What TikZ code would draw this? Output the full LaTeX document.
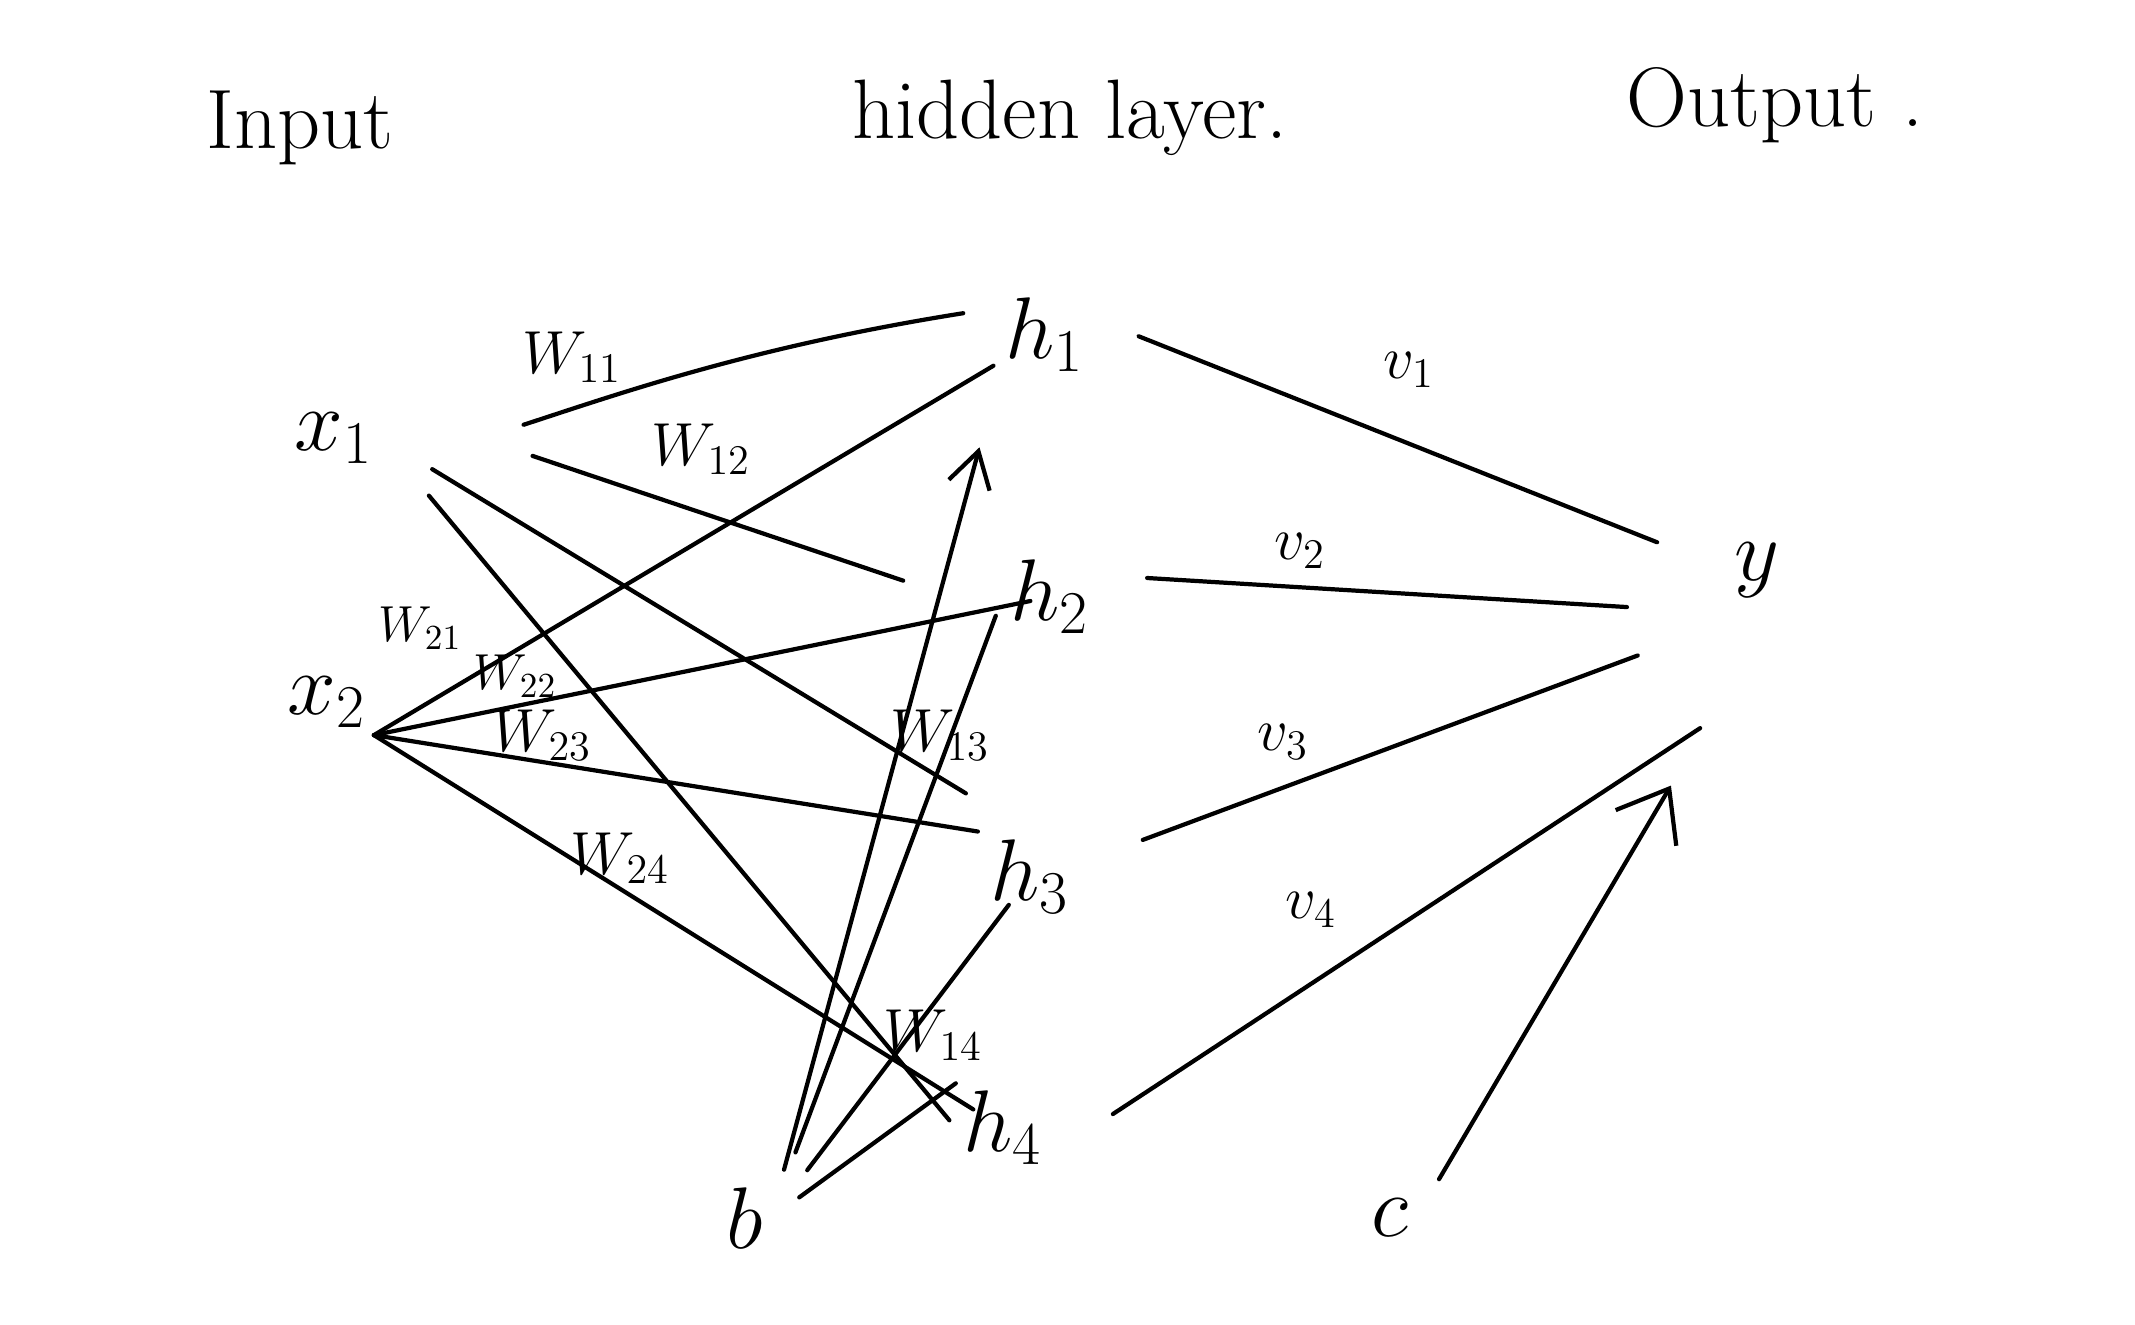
\documentclass[tikz,border=0pt]{standalone}
\usepackage{fontspec}
\usetikzlibrary{arrows.meta}

\begin{document}
\begin{tikzpicture}[x=0.01cm, y=-0.01cm, % 1 unit = 1 pixel of the sketch
        unit/.style={inner sep=2pt, font=\fontsize{24}{28}\selectfont},
        head/.style={font=\fontsize{24}{28}\selectfont},
        wlabel/.style={font=\fontsize{17}{20}\selectfont},
        link/.style={line width=1.2pt, line cap=round},
        barb/.style={-{Straight Barb[length=10pt, width=12pt]}},
        widebarb/.style={-{Straight Barb[length=13pt, width=20pt]}}]

    \useasboundingbox (0, 0) rectangle (2135, 1325);

    % Column headings
    \node[head] (hin) at (300, 128) {Input};
    \node[head] (hhid) at (1070, 118) {hidden layer.};
    \node[head] (hout) at (1775, 105) {Output .};

    % Units
    \node[unit] (x1) at (334, 438) {$x_1$};
    \node[unit] (x2) at (327, 702) {$x_2$};
    \node[unit] (h1) at (1045, 335) {$h_1$};
    \node[unit] (h2) at (1050, 597) {$h_2$};
    \node[unit] (h3) at (1030, 877) {$h_3$};
    \node[unit] (h4) at (1003, 1128) {$h_4$};
    \node[unit, minimum height=2.4cm] (y) at (1757, 570) {$y$};
    \node[unit] (b) at (745, 1218) {$b$};
    \node[unit] (c) at (1390, 1218) {$c$};

    % Input to hidden weights
    \draw[link, shorten <=1.5cm, shorten >=0.35cm] (x1.south east) to[out=18, in=189] (h1.150);
    \foreach \src/\dst/\s/\e in {
            x1.north east/h2.200/1.6cm/1.05cm,
            x1.east/h3.north/0.6cm/0.75cm,
            x1.east/h4.west/0.75cm/0.1cm,
            x2.south east/h1.center/0cm/0.6cm,
            x2.south east/h2.center/0cm/0.2cm,
            x2.south east/h3.north west/0cm/0.05cm,
            x2.south east/h4.center/0cm/0.35cm
        } {
        \draw[link, shorten <=\s, shorten >=\e] (\src) -- (\dst);
    }

    % Bias b into the hidden layer
    \draw[link, barb, shorten <=0.5cm, shorten >=0.7cm] (b.east) -- (h1.south west);
    \foreach \dst/\s/\e in {
            h2.west/0.7cm/0.2cm,
            h3.center/0.6cm/0.35cm,
            h4.north west/0.35cm/0cm
        } {
        \draw[link, shorten <=\s, shorten >=\e] (b.east) -- (\dst);
    }

    % Hidden to output weights
    \foreach \src/\dst/\s/\e in {
            h1.20/y.west/0.5cm/0.75cm,
            h2.25/y.235/0.5cm/1.0cm,
            h3.15/y.240/0.7cm/0.95cm,
            h4.-30/y.south/0.75cm/0.68cm
        } {
        \draw[link, shorten <=\s, shorten >=\e] (\src) -- (\dst);
    }

    % Bias c into the output
    \draw[link, widebarb, shorten <=0.45cm, shorten >=1.1cm] (c.east) -- (y.south west);

    % Weight labels
    \foreach \ij/\x/\y in {11/572/357, 12/701/449, 13/940/735, 14/933/1035,
            23/542/735, 24/620/858} {
        \node[wlabel] (w\ij) at (\x, \y) {$W_{\ij}$};
    }
    \foreach \ij/\x/\y in {21/420/628, 22/515/676} {
        \node[wlabel, font=\fontsize{14}{16}\selectfont] (w\ij) at (\x, \y) {$W_{\ij}$};
    }
    \foreach \k/\x/\y in {1/1409/370, 2/1300/551, 3/1283/742, 4/1311/910} {
        \node[wlabel] (v\k) at (\x, \y) {$v_\k$};
    }

\end{tikzpicture}
\end{document}
